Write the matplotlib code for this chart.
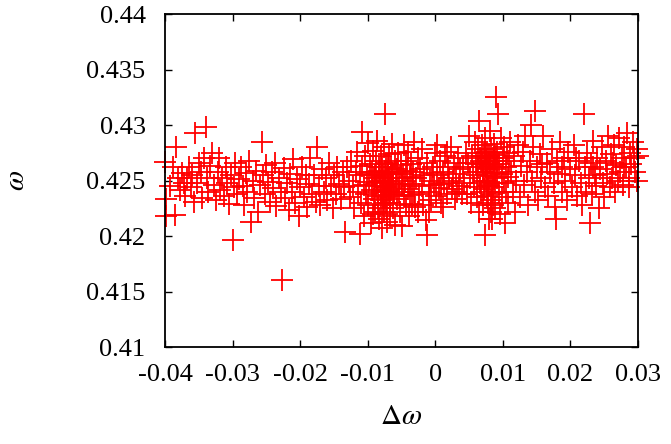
import matplotlib
matplotlib.use('Agg')
import matplotlib.pyplot as plt
from matplotlib.font_manager import FontProperties, findfont

# ── data (delta omega, omega) ────────────────────────────────────────────────

seg_left = [
    (-0.0400, 0.4267), (-0.0398, 0.4218), (-0.0399, 0.4233), (-0.0392, 0.4245),
    (-0.0388, 0.4262), (-0.0385, 0.4219), (-0.0383, 0.4280), (-0.0381, 0.4252),
    (-0.0378, 0.4241), (-0.0375, 0.4257), (-0.0372, 0.4248), (-0.0370, 0.4236),
    (-0.0367, 0.4252), (-0.0365, 0.4262), (-0.0362, 0.4244), (-0.0360, 0.4255),
    (-0.0357, 0.4231), (-0.0355, 0.4293), (-0.0352, 0.4248), (-0.0350, 0.4266),
    (-0.0347, 0.4258), (-0.0345, 0.4234), (-0.0343, 0.4270), (-0.0340, 0.4298),
    (-0.0338, 0.4252), (-0.0336, 0.4240), (-0.0333, 0.4263), (-0.0330, 0.4275),
    (-0.0328, 0.4246), (-0.0325, 0.4232), (-0.0322, 0.4258), (-0.0320, 0.4270),
    (-0.0318, 0.4241), (-0.0315, 0.4252), (-0.0312, 0.4236), (-0.0310, 0.4262),
    (-0.0308, 0.4248), (-0.0305, 0.4229), (-0.0302, 0.4255), (-0.0299, 0.4196),
    (-0.0298, 0.4244), (-0.0296, 0.4266), (-0.0293, 0.4238), (-0.0290, 0.4251),
    (-0.0288, 0.4262), (-0.0285, 0.4245), (-0.0283, 0.4228), (-0.0280, 0.4257),
    (-0.0278, 0.4240), (-0.0275, 0.4268), (-0.0272, 0.4213), (-0.0270, 0.4250),
    (-0.0268, 0.4234), (-0.0265, 0.4259), (-0.0262, 0.4222), (-0.0260, 0.4246),
    (-0.0257, 0.4285), (-0.0255, 0.4255), (-0.0252, 0.4238), (-0.0250, 0.4264),
    (-0.0247, 0.4249), (-0.0245, 0.4231), (-0.0242, 0.4258), (-0.0240, 0.4243),
    (-0.0237, 0.4266), (-0.0235, 0.4227), (-0.0232, 0.4252), (-0.0229, 0.4240),
    (-0.0227, 0.4160), (-0.0224, 0.4261), (-0.0222, 0.4234), (-0.0220, 0.4248),
    (-0.0217, 0.4223), (-0.0215, 0.4256), (-0.0212, 0.4240), (-0.0210, 0.4269),
    (-0.0207, 0.4230), (-0.0205, 0.4251), (-0.0202, 0.4218), (-0.0200, 0.4244),
    (-0.0197, 0.4262), (-0.0195, 0.4235), (-0.0192, 0.4255), (-0.0190, 0.4226),
    (-0.0187, 0.4247), (-0.0185, 0.4270), (-0.0182, 0.4238), (-0.0180, 0.4255),
    (-0.0177, 0.4231), (-0.0175, 0.4280), (-0.0172, 0.4245), (-0.0170, 0.4228),
    (-0.0167, 0.4260), (-0.0165, 0.4240), (-0.0162, 0.4252), (-0.0160, 0.4232),
    (-0.0157, 0.4266), (-0.0155, 0.4245), (-0.0152, 0.4225), (-0.0150, 0.4255),
    (-0.0147, 0.4238), (-0.0145, 0.4262), (-0.0142, 0.4247), (-0.0140, 0.4233),
    (-0.0137, 0.4258), (-0.0135, 0.4244), (-0.0133, 0.4204), (-0.0131, 0.4262),
]

seg_cluster1 = [
    (-0.0128, 0.4250), (-0.0126, 0.4235), (-0.0124, 0.4268), (-0.0122, 0.4245),
    (-0.0120, 0.4225), (-0.0118, 0.4258), (-0.0116, 0.4276), (-0.0114, 0.4240),
    (-0.0112, 0.4202), (-0.0111, 0.4255), (-0.0110, 0.4230), (-0.0109, 0.4294),
    (-0.0108, 0.4263), (-0.0106, 0.4246), (-0.0105, 0.4218), (-0.0104, 0.4272),
    (-0.0102, 0.4238), (-0.0101, 0.4256), (-0.0100, 0.4284), (-0.0099, 0.4228),
    (-0.0098, 0.4249), (-0.0096, 0.4265), (-0.0095, 0.4212), (-0.0094, 0.4241),
    (-0.0093, 0.4258), (-0.0092, 0.4277), (-0.0091, 0.4233), (-0.0090, 0.4252),
    (-0.0089, 0.4222), (-0.0088, 0.4268), (-0.0087, 0.4245), (-0.0086, 0.4286),
    (-0.0085, 0.4236), (-0.0084, 0.4259), (-0.0083, 0.4215), (-0.0082, 0.4250),
    (-0.0081, 0.4272), (-0.0080, 0.4240), (-0.0079, 0.4262), (-0.0078, 0.4228),
    (-0.0077, 0.4255), (-0.0076, 0.4280), (-0.0075, 0.4244), (-0.0074, 0.4310),
    (-0.0074, 0.4235), (-0.0073, 0.4266), (-0.0072, 0.4250), (-0.0071, 0.4220),
    (-0.0070, 0.4258), (-0.0069, 0.4274), (-0.0068, 0.4241), (-0.0067, 0.4230),
    (-0.0066, 0.4262), (-0.0065, 0.4248), (-0.0064, 0.4283), (-0.0063, 0.4225),
    (-0.0062, 0.4256), (-0.0061, 0.4238), (-0.0060, 0.4268), (-0.0059, 0.4210),
    (-0.0058, 0.4247), (-0.0057, 0.4260), (-0.0056, 0.4233), (-0.0055, 0.4275),
    (-0.0054, 0.4252), (-0.0053, 0.4240), (-0.0052, 0.4222), (-0.0051, 0.4264),
    (-0.0050, 0.4245), (-0.0049, 0.4209), (-0.0048, 0.4256), (-0.0047, 0.4282),
    (-0.0046, 0.4236), (-0.0045, 0.4250), (-0.0044, 0.4268), (-0.0043, 0.4228),
    (-0.0042, 0.4259), (-0.0041, 0.4242), (-0.0040, 0.4276), (-0.0039, 0.4218),
    (-0.0038, 0.4253), (-0.0037, 0.4237), (-0.0036, 0.4265), (-0.0035, 0.4247),
    (-0.0034, 0.4229), (-0.0033, 0.4258), (-0.0032, 0.4285), (-0.0031, 0.4240),
    (-0.0030, 0.4226),
    (-0.0089, 0.4255), (-0.0086, 0.4248), (-0.0083, 0.4262), (-0.0080, 0.4253),
    (-0.0077, 0.4245), (-0.0075, 0.4258), (-0.0072, 0.4240), (-0.0070, 0.4265),
    (-0.0068, 0.4252), (-0.0066, 0.4243), (-0.0064, 0.4257), (-0.0062, 0.4247),
    (-0.0078, 0.4236), (-0.0073, 0.4230), (-0.0069, 0.4237), (-0.0081, 0.4232),
    (-0.0085, 0.4225), (-0.0076, 0.4222), (-0.0071, 0.4213), (-0.0079, 0.4207),
    (-0.0067, 0.4218), (-0.0092, 0.4220),
]

seg_middle = [
    (-0.0028, 0.4252), (-0.0026, 0.4270), (-0.0024, 0.4238), (-0.0022, 0.4260),
    (-0.0020, 0.4245), (-0.0018, 0.4228), (-0.0016, 0.4255), (-0.0014, 0.4214),
    (-0.0013, 0.4201), (-0.0012, 0.4266), (-0.0010, 0.4240), (-0.0008, 0.4250),
    (-0.0006, 0.4232), (-0.0004, 0.4262), (-0.0002, 0.4246), (0.0000, 0.4275),
    (0.0001, 0.4236), (0.0003, 0.4255), (0.0005, 0.4243), (0.0007, 0.4268),
    (0.0009, 0.4230), (0.0011, 0.4258), (0.0013, 0.4248), (0.0015, 0.4272),
    (0.0017, 0.4238), (0.0019, 0.4262), (0.0021, 0.4252), (0.0023, 0.4280),
    (0.0025, 0.4242), (0.0027, 0.4266), (0.0029, 0.4233), (0.0031, 0.4256),
    (0.0033, 0.4270), (0.0035, 0.4245), (0.0037, 0.4260), (0.0039, 0.4238),
    (-0.0025, 0.4222), (-0.0019, 0.4278), (-0.0009, 0.4222), (0.0002, 0.4282),
    (0.0012, 0.4226), (0.0018, 0.4276), (0.0026, 0.4250), (0.0032, 0.4240),
    (-0.0005, 0.4257), (0.0008, 0.4247),
]

seg_cluster2 = [
    (0.0041, 0.4262), (0.0043, 0.4248), (0.0045, 0.4275), (0.0047, 0.4238),
    (0.0049, 0.4266), (0.0050, 0.4290), (0.0052, 0.4252), (0.0053, 0.4230),
    (0.0055, 0.4272), (0.0056, 0.4258), (0.0058, 0.4244), (0.0059, 0.4285),
    (0.0060, 0.4265), (0.0061, 0.4235), (0.0062, 0.4255), (0.0063, 0.4278),
    (0.0064, 0.4222), (0.0065, 0.4304), (0.0066, 0.4248), (0.0067, 0.4268),
    (0.0068, 0.4240), (0.0069, 0.4282), (0.0070, 0.4258), (0.0071, 0.4228),
    (0.0072, 0.4272), (0.0073, 0.4250), (0.0074, 0.4201), (0.0074, 0.4288),
    (0.0075, 0.4262), (0.0076, 0.4236), (0.0077, 0.4276), (0.0078, 0.4246),
    (0.0079, 0.4215), (0.0080, 0.4266), (0.0081, 0.4295), (0.0082, 0.4254),
    (0.0083, 0.4232), (0.0084, 0.4215), (0.0085, 0.4270), (0.0086, 0.4244),
    (0.0087, 0.4283), (0.0088, 0.4260), (0.0089, 0.4225), (0.0090, 0.4325),
    (0.0091, 0.4252), (0.0092, 0.4276), (0.0093, 0.4310), (0.0094, 0.4240),
    (0.0095, 0.4265), (0.0096, 0.4220), (0.0097, 0.4288), (0.0098, 0.4256),
    (0.0099, 0.4235), (0.0100, 0.4270), (0.0101, 0.4248), (0.0102, 0.4280),
    (0.0103, 0.4212), (0.0104, 0.4262), (0.0105, 0.4240), (0.0106, 0.4275),
    (0.0107, 0.4253), (0.0108, 0.4230), (0.0109, 0.4268), (0.0110, 0.4285),
    (0.0063, 0.4262), (0.0066, 0.4270), (0.0069, 0.4265), (0.0071, 0.4258),
    (0.0073, 0.4275), (0.0075, 0.4268), (0.0077, 0.4260), (0.0079, 0.4272),
    (0.0081, 0.4264), (0.0083, 0.4278), (0.0085, 0.4257), (0.0087, 0.4268),
    (0.0089, 0.4273), (0.0092, 0.4262), (0.0076, 0.4250), (0.0080, 0.4245),
    (0.0084, 0.4238), (0.0078, 0.4230), (0.0082, 0.4222), (0.0086, 0.4228),
    (0.0072, 0.4242), (0.0088, 0.4248),
]

seg_right = [
    (0.0112, 0.4258), (0.0115, 0.4240), (0.0117, 0.4272), (0.0120, 0.4250),
    (0.0122, 0.4282), (0.0125, 0.4235), (0.0127, 0.4263), (0.0130, 0.4276),
    (0.0132, 0.4246), (0.0135, 0.4258), (0.0137, 0.4228), (0.0140, 0.4268),
    (0.0141, 0.4300), (0.0143, 0.4250), (0.0145, 0.4280), (0.0147, 0.4313),
    (0.0148, 0.4240), (0.0150, 0.4262), (0.0152, 0.4232), (0.0155, 0.4274),
    (0.0157, 0.4252), (0.0160, 0.4290), (0.0162, 0.4244), (0.0165, 0.4266),
    (0.0167, 0.4236), (0.0170, 0.4258), (0.0172, 0.4278), (0.0175, 0.4248),
    (0.0177, 0.4226), (0.0179, 0.4215), (0.0180, 0.4268), (0.0182, 0.4256),
    (0.0185, 0.4285), (0.0187, 0.4240), (0.0190, 0.4270), (0.0192, 0.4250),
    (0.0195, 0.4232), (0.0197, 0.4276), (0.0200, 0.4260), (0.0202, 0.4244),
    (0.0205, 0.4282), (0.0207, 0.4255), (0.0210, 0.4236), (0.0212, 0.4268),
    (0.0215, 0.4248), (0.0217, 0.4228), (0.0220, 0.4310), (0.0221, 0.4262),
    (0.0223, 0.4240), (0.0225, 0.4275), (0.0227, 0.4252), (0.0229, 0.4212),
    (0.0230, 0.4266), (0.0232, 0.4238), (0.0234, 0.4286), (0.0236, 0.4255),
    (0.0238, 0.4245), (0.0240, 0.4270), (0.0242, 0.4225), (0.0244, 0.4260),
    (0.0246, 0.4280), (0.0248, 0.4248), (0.0250, 0.4235), (0.0252, 0.4268),
    (0.0254, 0.4256), (0.0256, 0.4290), (0.0258, 0.4244), (0.0260, 0.4274),
    (0.0262, 0.4252), (0.0264, 0.4282), (0.0266, 0.4240), (0.0268, 0.4264),
    (0.0270, 0.4250), (0.0272, 0.4288), (0.0274, 0.4258), (0.0276, 0.4270),
    (0.0278, 0.4246), (0.0280, 0.4280), (0.0282, 0.4262), (0.0284, 0.4293),
    (0.0286, 0.4252), (0.0288, 0.4275), (0.0290, 0.4265), (0.0292, 0.4285),
    (0.0294, 0.4270), (0.0296, 0.4258), (0.0298, 0.4278), (0.0299, 0.4250),
    (0.0300, 0.4272), (0.0118, 0.4222), (0.0133, 0.4290), (0.0158, 0.4265),
    (0.0188, 0.4262), (0.0208, 0.4270), (0.0233, 0.4262), (0.0263, 0.4266),
    (0.0279, 0.4262), (0.0287, 0.4244),
]

x_ticks = [-0.04, -0.03, -0.02, -0.01, 0, 0.01, 0.02, 0.03]
x_ticklabels = ["-0.04", "-0.03", "-0.02", "-0.01", "0", "0.01", "0.02", "0.03"]
y_ticks = [0.41, 0.415, 0.42, 0.425, 0.43, 0.435, 0.44]
y_ticklabels = ["0.41", "0.415", "0.42", "0.425", "0.43", "0.435", "0.44"]

# ── figure ────────────────────────────────────────────────────────────────────

plt.rcParams['mathtext.fontset'] = 'stix'
plt.rcParams['axes.unicode_minus'] = False

# pin the serif face by file so tick labels can't fall back to a sans font
serif = FontProperties(fname=findfont('Liberation Serif'), size=19)

fig = plt.figure(figsize=(6.71, 4.44), dpi=100)
ax = fig.add_axes([165 / 671, 97 / 444, 473 / 671, 333 / 444])

points = seg_left + seg_cluster1 + seg_middle + seg_cluster2 + seg_right
dw = [p[0] for p in points]
om = [p[1] for p in points]

ax.plot(dw, om, linestyle='none', marker='+', markersize=16,
        markeredgewidth=1.3, color='#ff0000', clip_on=False, zorder=3)

ax.set_xlim(-0.04, 0.03)
ax.set_ylim(0.41, 0.44)
ax.set_xticks(x_ticks)
ax.set_xticklabels(x_ticklabels, fontproperties=serif)
ax.set_yticks(y_ticks)
ax.set_yticklabels(y_ticklabels, fontproperties=serif)

ax.tick_params(direction='in', length=5, width=1, top=True, right=True,
               colors='black')
ax.tick_params(axis='x', pad=12)
ax.tick_params(axis='y', pad=14)
for sp in ax.spines.values():
    sp.set_linewidth(1.3)
    sp.set_zorder(4)

ax.set_xlabel(r'$\Delta\omega$', fontsize=21, labelpad=12)
fig.text(16 / 671, 1 - 180 / 444, r'$\omega$', fontsize=21, rotation=90,
         ha='center', va='center')

fig.savefig('out.png', dpi=100)
